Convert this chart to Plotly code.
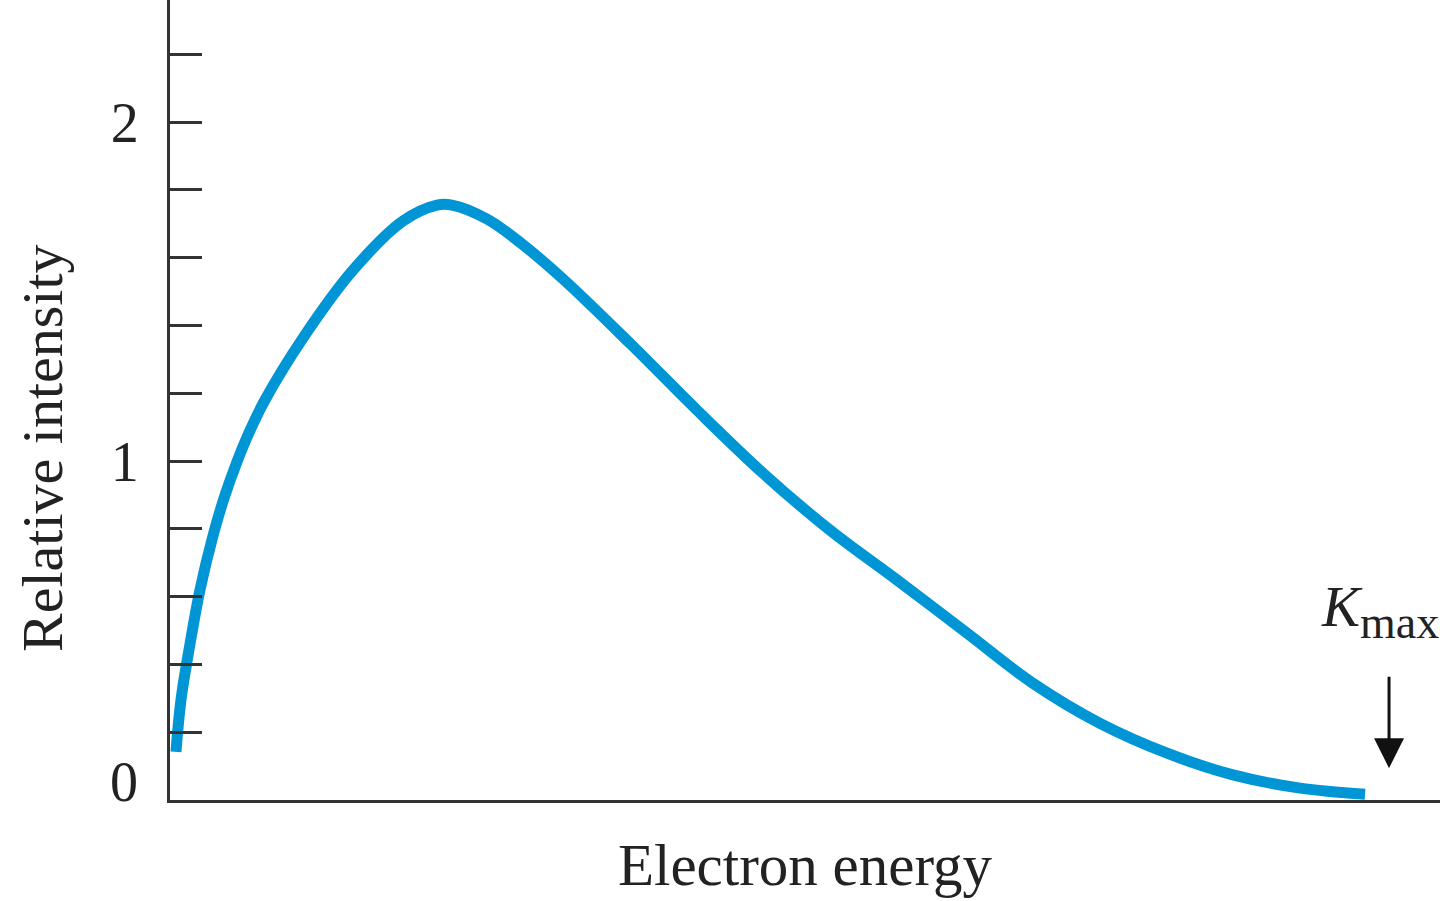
import plotly.graph_objects as go

# Electron energy as a fraction of K_max
energy = [0.0049, 0.0090, 0.0164, 0.0246, 0.0353, 0.0443, 0.0541, 0.0656, 0.0779,
          0.1091, 0.1501, 0.1911, 0.2190, 0.2313, 0.2600, 0.2871, 0.3224, 0.3774,
          0.4323, 0.4865, 0.5414, 0.5964, 0.6538, 0.7080, 0.7629, 0.8179, 0.8720,
          0.9270, 0.9803]
intensity = [0.142, 0.295, 0.460, 0.620, 0.780, 0.890, 0.990, 1.090, 1.180,
             1.363, 1.563, 1.708, 1.755, 1.755, 1.714, 1.645, 1.537, 1.347,
             1.150, 0.964, 0.796, 0.649, 0.492, 0.344, 0.226, 0.138, 0.074,
             0.035, 0.017]

y_major_vals = [1, 2]
y_major_text = ["1", "2"]
y_minor_step = 0.2
zero_label = "0"
k_max = 1.0

SERIF = "Liberation Serif, Times New Roman, serif"
AXIS_COLOR = "#333333"
TEXT_COLOR = "#222222"

fig = go.Figure()
fig.add_trace(go.Scatter(
    x=energy, y=intensity, mode="lines",
    line=dict(color="#0096d6", width=11, shape="spline", smoothing=1.0),
    hoverinfo="skip", showlegend=False,
))

fig.update_layout(
    width=1440, height=901,
    margin=dict(l=170, r=0, t=0, b=101),
    paper_bgcolor="white", plot_bgcolor="white",
    font=dict(family=SERIF, color=TEXT_COLOR),
    xaxis=dict(
        range=[0, 1.0418], showgrid=False, zeroline=False,
        showline=True, linecolor=AXIS_COLOR, linewidth=3,
        showticklabels=False, ticks="",
        title=dict(text="Electron energy", font=dict(size=59, family=SERIF),
                   standoff=42),
    ),
    yaxis=dict(
        range=[0, 2.36], showgrid=False, zeroline=False,
        showline=True, linecolor=AXIS_COLOR, linewidth=3,
        tickmode="array", tickvals=y_major_vals, ticktext=y_major_text,
        ticks="inside", ticklen=32, tickwidth=3, tickcolor=AXIS_COLOR,
        ticklabelstandoff=17,
        tickfont=dict(size=56, family=SERIF, color=TEXT_COLOR),
        minor=dict(tickmode="linear", tick0=0, dtick=y_minor_step,
                   ticks="inside", ticklen=32, tickwidth=3,
                   tickcolor=AXIS_COLOR, showgrid=False),
    ),
    annotations=[
        dict(text="Relative intensity", textangle=-90,
             xref="paper", yref="paper", x=-0.1008, y=0.44,
             xanchor="center", yanchor="middle", showarrow=False,
             font=dict(size=58, family=SERIF, color=TEXT_COLOR)),
        dict(text=zero_label, xref="paper", yref="y", x=-0.0236, y=0,
             xanchor="right", yanchor="middle", yshift=18, showarrow=False,
             font=dict(size=56, family=SERIF, color=TEXT_COLOR)),
        dict(text="<i>K</i><sub><span style='font-size:46px'>max</span></sub>",
             xref="x", yref="y",
             x=k_max, y=0, xanchor="left", yanchor="bottom",
             xshift=-70, yshift=150, showarrow=False,
             font=dict(size=57, family=SERIF, color=TEXT_COLOR)),
        dict(text="", xref="x", yref="y", x=k_max, y=0.094,
             showarrow=True, axref="pixel", ayref="pixel", ax=0, ay=-93,
             arrowhead=2, arrowsize=2.0, arrowwidth=3, arrowcolor="#111111"),
    ],
)

fig.write_html("out.html", config={"displayModeBar": False},
               post_script="document.body.style.margin='0';document.body.style.overflow='hidden';")
